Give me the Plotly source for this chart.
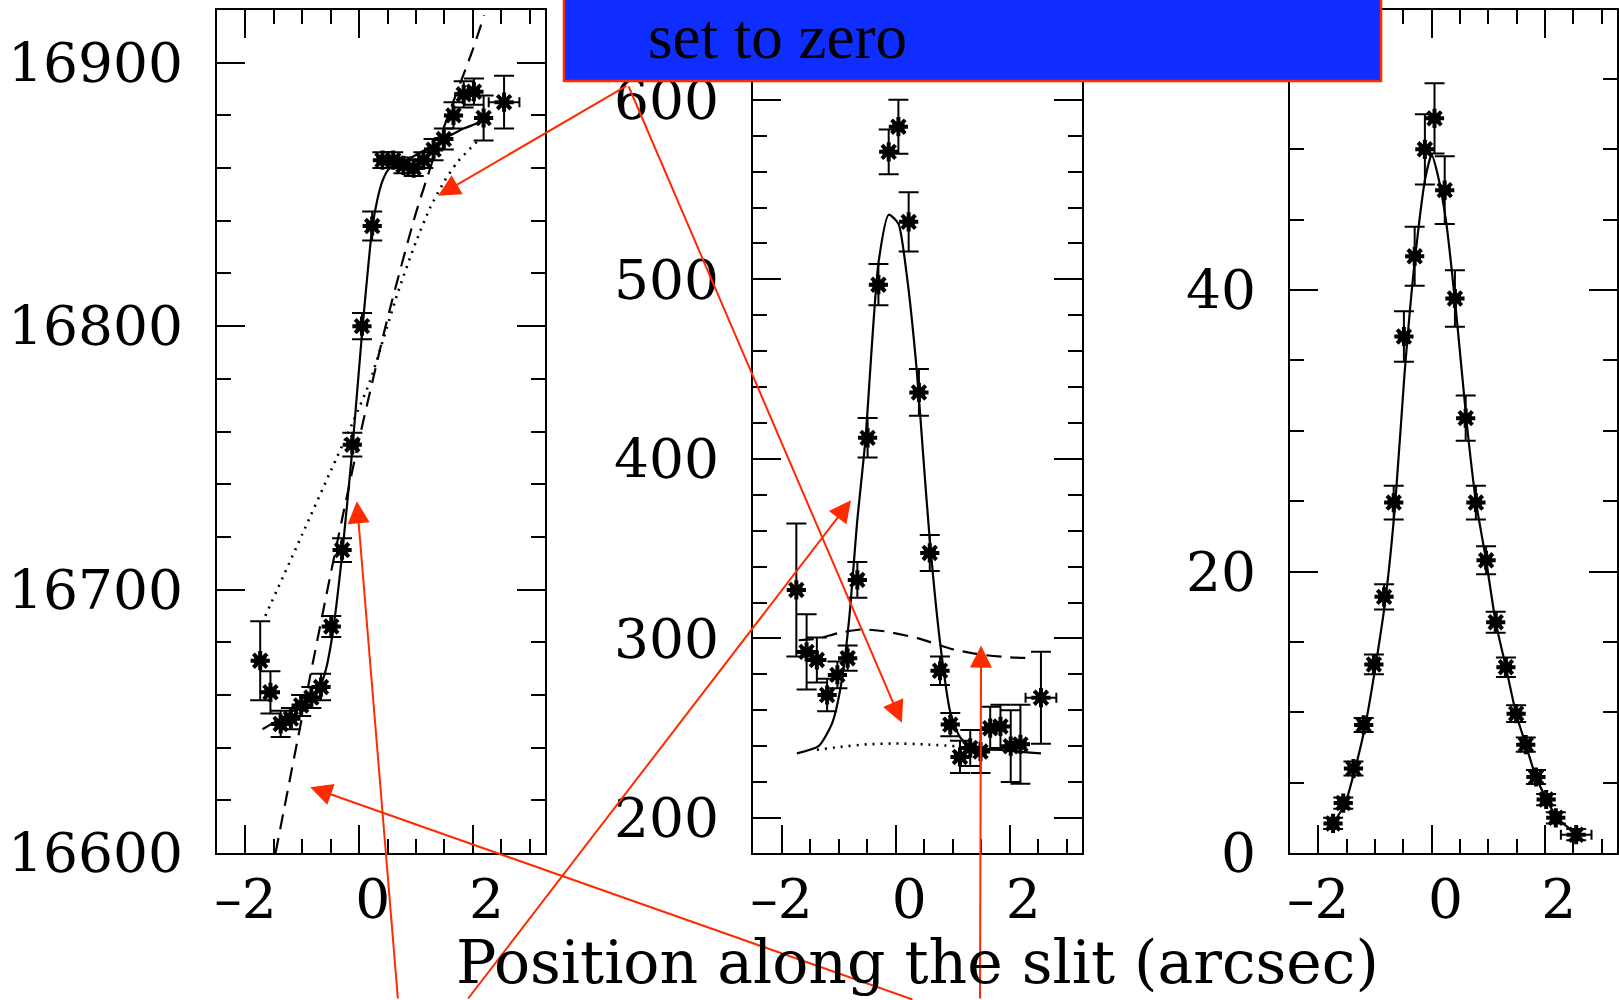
import plotly.graph_objects as go

W, H = 1619, 1000

# ---------------- data ----------------
position = [-1.74, -1.56, -1.38, -1.20, -1.02, -0.84, -0.67, -0.49, -0.30, -0.12,
            0.05, 0.23, 0.41, 0.60, 0.78, 0.96, 1.13, 1.31, 1.49, 1.66,
            1.84, 2.02, 2.19, 2.55]
position_err = [0.09, 0.09, 0.09, 0.09, 0.09, 0.09, 0.09, 0.09, 0.09, 0.09,
                0.09, 0.09, 0.09, 0.09, 0.09, 0.09, 0.09, 0.09, 0.09, 0.09,
                0.09, 0.09, 0.09, 0.27]

# panel 1: velocity
velocity = [16673, 16661, 16649, 16651, 16656, 16659, 16663, 16686, 16715, 16755,
            16800, 16838, 16863, 16863, 16861, 16860, 16863, 16867, 16871, 16880,
            16888, 16889, 16879, 16885]
velocity_err = [15, 8, 5, 4, 4, 4, 5, 4, 4.5, 4.5, 5, 5.5, 3, 3, 3, 3, 3, 4, 4, 5,
                5, 5, 8.5, 10]
vel_solid_x = [-1.70, -1.38, -1.02, -0.84, -0.67, -0.58, -0.49, -0.40, -0.30, -0.12,
               0.05, 0.23, 0.32, 0.41, 0.50, 0.60, 0.78, 0.96, 1.13, 1.31, 1.49,
               1.66, 1.84, 2.02, 2.19]
vel_solid_y = [16647, 16651, 16656, 16659, 16664, 16670, 16680, 16694, 16713, 16753,
               16797, 16837, 16848, 16855, 16859, 16861, 16862.5, 16864.5, 16866.5,
               16868.7, 16871, 16873, 16875, 16876.5, 16878]
vel_dash_x = [-1.47, -1.0, -0.5, 0.0, 0.5, 1.0, 1.5, 2.0, 2.2]
vel_dash_y = [16600, 16652, 16706, 16757, 16803, 16843, 16876, 16905, 16918]
vel_dot_x = [-1.65, -1.0, -0.5, -0.1, 0.19, 0.67, 1.0, 1.25, 1.5, 1.72, 2.07]
vel_dot_y = [16690, 16721, 16745, 16764, 16779, 16812, 16832, 16845, 16855, 16862, 16870]

# panel 2: intensity
intensity = [327, 292.5, 288, 268.5, 279.7, 289, 332.6, 411.7, 497, 571,
             585, 532, 437, 347.6, 282, 252, 234, 239, 237, 250,
             251, 240, 241, 267]
intensity_err = [37, 21, 12.5, 9, 7.5, 7, 10, 11, 11.5, 12.5, 15, 16.5, 13, 10, 8,
                 6.5, 9, 10, 12, 12, 12, 20, 22, 25.6]
int_solid_x = [-1.73, -1.35, -1.11, -0.94, -0.81, -0.67, -0.53, -0.30, -0.12, 0.05,
               0.19, 0.37, 0.48, 0.60, 0.78, 0.96, 1.13, 1.31, 1.80, 2.55]
int_solid_y = [236, 240, 253, 277, 312, 366, 410, 509, 536, 531,
               504, 450, 404, 355, 298, 259, 245, 240, 238, 236]
int_dash_x = [-1.70, -1.35, -1.0, -0.6, -0.2, 0.4, 1.0, 1.5, 2.0, 2.40]
int_dash_y = [299, 300, 303, 305, 304, 300, 294, 291, 289.5, 289]
int_dot_x = [-1.38, -1.0, -0.5, 0.0, 0.5, 1.05]
int_dot_y = [238, 239.5, 241, 241.5, 241, 240]

# panel 3: flux
flux = [2.1, 3.55, 6.0, 9.1, 13.4, 18.2, 24.9, 36.7, 42.4, 50.0,
        52.2, 47.1, 39.4, 30.9, 24.9, 20.8, 16.4, 13.2, 9.9, 7.7,
        5.4, 3.8, 2.5, 1.3]
flux_err = [0.4, 0.4, 0.5, 0.5, 0.7, 0.9, 1.2, 1.8, 2.1, 2.5, 2.5, 2.4, 2.0, 1.6,
            1.2, 1.0, 0.75, 0.7, 0.6, 0.5, 0.5, 0.4, 0.4, 0.4]
flux_model_x = [-1.75, -1.52, -1.35, -1.17, -0.99, -0.81, -0.64, -0.48, -0.30, -0.11,
                0.0, 0.10, 0.25, 0.43, 0.62, 0.78, 0.96, 1.13, 1.31, 1.49, 1.66,
                1.84, 2.03, 2.21, 2.57]
flux_model_y = [2.0, 3.6, 6.0, 9.1, 13.3, 18.2, 25.0, 34.0, 42.0, 48.0,
                49.6, 48.3, 45.0, 38.5, 30.5, 25.0, 20.8, 16.4, 13.2, 9.9, 7.7,
                5.4, 3.8, 2.5, 1.3]

x_range = [-2.5, 3.27]
x_tickvals = [-2, 0, 2]
x_ticktext = ["\u20132", "\u20020", "\u20022"]
y_ranges = [[16600, 16920], [180.5, 650], [0, 59.9]]
y_dticks = [100, 100, 20]
y_minor = [20, 20, 5]

box_text = "set to zero"
x_title = "Position along the slit (arcsec)"

# ---------------- layout geometry (pixels) ----------------
panel_x = [(217, 545), (753, 1082), (1290, 1617)]
panel_top, panel_bot = 10, 853

fig = go.Figure()

mk = dict(symbol='asterisk-open', size=16, color='black',
          line=dict(color='black', width=4))


def ebar(arr, w):
    return dict(type='data', array=arr, visible=True, color='black',
                thickness=2, width=w)


sfx = ['', '2', '3']
series = [(velocity, velocity_err), (intensity, intensity_err), (flux, flux_err)]
models = [
    [(vel_solid_x, vel_solid_y, 'solid'), (vel_dash_x, vel_dash_y, 'dash'),
     (vel_dot_x, vel_dot_y, 'dot')],
    [(int_solid_x, int_solid_y, 'solid'), (int_dash_x, int_dash_y, 'dash'),
     (int_dot_x, int_dot_y, 'dot')],
    [(flux_model_x, flux_model_y, 'solid')],
]
dash_map = {'solid': 'solid', 'dash': '15px,9px', 'dot': '2px,6px'}

for i in range(3):
    xa, ya = 'x' + sfx[i], 'y' + sfx[i]
    for mxs, mys, st in models[i]:
        fig.add_trace(go.Scatter(
            x=mxs, y=mys, mode='lines', xaxis=xa, yaxis=ya, showlegend=False,
            line=dict(color='black', width=2.2 if st != 'dot' else 2.6,
                      dash=dash_map[st], shape='spline', smoothing=0.6),
            hoverinfo='skip'))
    yv, ye = series[i]
    fig.add_trace(go.Scatter(
        x=position, y=yv, mode='markers', xaxis=xa, yaxis=ya, showlegend=False,
        marker=mk, error_y=ebar(ye, 10), error_x=ebar(position_err, 5)))

tickfont = dict(family='DejaVu Serif', size=55, color='black')
layout = dict(width=W, height=H,
              margin=dict(l=0, r=0, t=0, b=0, pad=0, autoexpand=False),
              paper_bgcolor='white', plot_bgcolor='white', showlegend=False)

for i in range(3):
    x0, x1 = panel_x[i]
    layout['xaxis' + sfx[i]] = dict(
        domain=[x0 / W, x1 / W], anchor='y' + sfx[i], range=x_range,
        tickmode='array', tickvals=x_tickvals, ticktext=x_ticktext,
        ticks='inside', ticklen=28, tickwidth=2,
        tickcolor='black', showline=True, linewidth=2, linecolor='black',
        mirror='ticks', showgrid=False, zeroline=False, tickfont=tickfont,
        ticklabelstandoff=-3, automargin=False,
        minor=dict(tick0=0, dtick=0.5, ticks='inside', ticklen=14, tickwidth=2,
                   tickcolor='black', showgrid=False))
    layout['yaxis' + sfx[i]] = dict(
        domain=[1 - panel_bot / H, 1 - panel_top / H], anchor='x' + sfx[i],
        range=y_ranges[i], tick0=0, dtick=y_dticks[i], ticks='inside',
        ticklen=28, tickwidth=2, tickcolor='black', showline=True, linewidth=2,
        linecolor='black', mirror='ticks', showgrid=False, zeroline=False,
        tickfont=tickfont, ticklabelstandoff=21, automargin=False,
        tickformat='d', exponentformat='none',
        minor=dict(tick0=0, dtick=y_minor[i], ticks='inside', ticklen=14,
                   tickwidth=2, tickcolor='black', showgrid=False))

fig.update_layout(**layout)


def to_px(i, xv, yv):
    x0, x1 = panel_x[i]
    r0, r1 = y_ranges[i]
    px = x0 + (xv - x_range[0]) / (x_range[1] - x_range[0]) * (x1 - x0)
    py = panel_bot - (yv - r0) / (r1 - r0) * (panel_bot - panel_top)
    return px, py


# red arrows: (panel, tip x, tip y, tail px x, tail px y)
arrows = [
    (0, 1.39, 16849.5, 628, 85),
    (1, 0.11, 253, 628, 85),
    (0, -0.04, 16733.5, 398, 1000),
    (1, -0.78, 377, 467, 1000),
    (0, -0.86, 16625, 914, 1000),
    (1, 1.50, 296, 980, 1000),
]
annotations = []
for p, tx, ty, sx, sy in arrows:
    hx, hy = to_px(p, tx, ty)
    annotations.append(dict(
        x=tx, y=ty, xref='x' + sfx[p], yref='y' + sfx[p], text='',
        showarrow=True, axref='pixel', ayref='pixel', ax=sx - hx, ay=sy - hy,
        arrowhead=2, arrowsize=2.2, arrowwidth=2, arrowcolor='#ff2a00',
        standoff=0, startstandoff=0))

# x-axis title centred under the middle panel
annotations.append(dict(
    x=(panel_x[1][0] + panel_x[1][1]) / 2 / W, y=1 - 962 / H, xref='paper',
    yref='paper', text=x_title, showarrow=False, xanchor='center',
    yanchor='middle', font=dict(family='DejaVu Serif', size=60, color='black')))

# box text
annotations.append(dict(
    x=646 / W, y=1 - 37 / H, xref='paper', yref='paper', text=box_text,
    showarrow=False, xanchor='left', yanchor='middle',
    font=dict(family='Liberation Serif', size=63, color='black')))

fig.update_layout(annotations=annotations)

fig.add_shape(type='rect', xref='paper', yref='paper',
              x0=564 / W, x1=1381 / W, y0=1 - 81 / H, y1=1.01,
              fillcolor='#0f2dff', line=dict(color='#ff2a00', width=2.5),
              layer='above')

fig.write_html("out.html")
